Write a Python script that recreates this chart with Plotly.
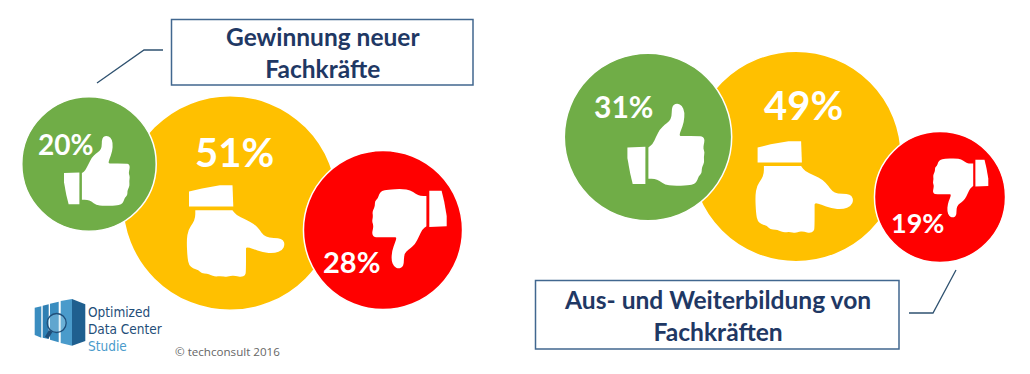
import plotly.graph_objects as go

# Data
sentiments = ["Positiv", "Neutral", "Negativ"]
left_values = [20, 51, 28]
right_values = [31, 49, 19]
left_title = "Gewinnung neuer<br>Fachkräfte"
right_title = "Aus- und Weiterbildung von<br>Fachkräften"
copyright_text = "© techconsult 2016"

# Layout of the bubbles (pixel-like axis units)
left_x, left_y = [89, 230, 383], [164, 203, 230]
right_x, right_y = [648, 796, 940], [137, 156.5, 197]
colors = ["#70AD47", "#FFC000", "#FF0000"]
order = [1, 0, 2]
AREA_REF = 1 / 452
NAVY = "#1F3864"
BORDER = "#41678F"

fig = go.Figure()
for xs, ys, vals in [(left_x, left_y, left_values), (right_x, right_y, right_values)]:
    fig.add_trace(go.Scatter(
        x=[xs[i] for i in order], y=[ys[i] for i in order],
        customdata=[vals[i] for i in order],
        text=[sentiments[i] for i in order],
        mode="markers", hoverinfo="text",
        marker=dict(size=[vals[i] for i in order], sizemode="area", sizeref=AREA_REF,
                    color=[colors[i] for i in order], opacity=1,
                    line=dict(color="white", width=1.5)),
        showlegend=False,
    ))

# Thumb icon outline in its own frame (a repeated point gives a sharp corner)
CUFF = [(22, 148), (76, 146), (76, 258), (38, 258), (30, 225), (22, 180)]
HAND = [(85, 148), (85, 148), (98, 138), (108, 116), (120, 93), (134, 80), (148, 70), (155, 56),
        (155, 32), (160, 20), (172, 16), (186, 22), (194, 42), (192, 72), (182, 98), (178, 112),
        (182, 114), (182, 114), (240, 114), (250, 116), (254, 126), (251, 140), (250, 152),
        (254, 162), (251, 178), (253, 192), (248, 204), (245, 212), (245, 226), (236, 234),
        (232, 248), (224, 258), (205, 262), (160, 264), (135, 260), (118, 248), (104, 242),
        (85, 242), (85, 242)]
ICON_C = (137, 140)


def xf(p, cx, cy, s, rot):
    dx, dy = p[0] - ICON_C[0], p[1] - ICON_C[1]
    if rot == 90:
        dx, dy = -dy, dx
    elif rot == 180:
        dx, dy = -dx, -dy
    return cx + s * dx, cy + s * dy


def poly_path(pts):
    return "M" + " L".join(f"{x:.1f},{y:.1f}" for x, y in pts) + " Z"


def smooth_path(pts):
    n = len(pts)
    mid = lambda a, b: ((a[0] + b[0]) / 2, (a[1] + b[1]) / 2)
    m0 = mid(pts[-1], pts[0])
    d = f"M{m0[0]:.1f},{m0[1]:.1f}"
    for i in range(n):
        m = mid(pts[i], pts[(i + 1) % n])
        d += f" Q{pts[i][0]:.1f},{pts[i][1]:.1f} {m[0]:.1f},{m[1]:.1f}"
    return d + " Z"


shapes = []
icons = [(96.7, 170.8, 0.284, 0), (235.7, 230.8, 0.396, 90), (409.7, 228.8, 0.322, 180),
         (665.7, 144.7, 0.333, 0), (804.3, 186.7, 0.396, 90), (960.8, 188, 0.239, 180)]
for cx, cy, s, rot in icons:
    shapes.append(dict(type="path", path=poly_path([xf(p, cx, cy, s, rot) for p in CUFF]),
                       fillcolor="white", line=dict(width=0)))
    shapes.append(dict(type="path", path=smooth_path([xf(p, cx, cy, s, rot) for p in HAND]),
                       fillcolor="white", line=dict(width=0)))

# Title boxes and callouts
for x0, y0, x1, y1 in [(171.5, 19.5, 473, 85), (535.5, 280.5, 899, 349)]:
    shapes.append(dict(type="rect", x0=x0, y0=y0, x1=x1, y1=y1, fillcolor="white",
                       line=dict(color=BORDER, width=1.5)))
for pts in [[(97, 83), (144, 50), (163, 50)], [(956, 270), (933, 313), (909, 313)]]:
    shapes.append(dict(type="path", path="M" + " L".join(f"{x},{y}" for x, y in pts),
                       line=dict(color="#2F5270", width=1.3)))

# Logo
def logo_pt(x, y):
    return 30 + x / 3, 295 + y / 3


panels = [
    ([(14, 38), (34, 34), (34, 128), (14, 120)], "#3A8DC0"),
    ([(38, 32), (56, 28), (56, 132), (38, 128)], "#2F7FB3"),
    ([(60, 26), (86, 20), (86, 142), (60, 134)], "#3A8DC0"),
    ([(92, 18), (126, 12), (126, 152), (92, 144)], "#4A9BCB"),
    ([(126, 12), (166, 28), (166, 138), (126, 152)], "#1F5F8F"),
]
for pts, col in panels:
    shapes.append(dict(type="path", path=poly_path([logo_pt(*p) for p in pts]),
                       fillcolor=col, line=dict(width=0)))
cxl, cyl = logo_pt(80, 84)
shapes.append(dict(type="circle", x0=cxl - 9.5, x1=cxl + 9.5, y0=cyl - 9.5, y1=cyl + 9.5,
                   fillcolor="rgba(170,215,235,0.35)", line=dict(color="#1F4E79", width=1.3)))
h0, h1 = logo_pt(62, 108), logo_pt(50, 128)
shapes.append(dict(type="line", x0=h0[0], y0=h0[1], x1=h1[0], y1=h1[1],
                   line=dict(color="#1F4E79", width=4)))

# Texts
annotations = []
label_pos = [((65, 144), 28), ((234.5, 152), 40), ((351, 261), 29),
             ((623, 106), 30), ((803, 105), 40), ((917, 222), 27)]
all_vals = left_values + right_values
for ((x, y), size), v in zip(label_pos, all_vals):
    annotations.append(dict(x=x, y=y, text=f"<b>{v}%</b>", showarrow=False,
                            font=dict(family="Lato", size=size, color="white")))
annotations.append(dict(x=323, y=52.5, text=f"<b>{left_title}</b>", showarrow=False, align="center",
                        font=dict(family="Lato", size=24.5, color=NAVY), yanchor="middle"))
annotations.append(dict(x=717, y=315.5, text=f"<b>{right_title}</b>", showarrow=False, align="center",
                        font=dict(family="Lato", size=24.6, color=NAVY), yanchor="middle"))
annotations.append(dict(x=227.5, y=351, text=copyright_text, showarrow=False,
                        font=dict(family="Open Sans", size=11.6, color="#666666")))
NARROW = "'Liberation Sans Narrow', 'Arial Narrow', 'DejaVu Sans Condensed', sans-serif"
for txt, y, col, size in [("Optimized", 312, "#1F4E79", 13.5), ("Data Center", 329, "#1F4E79", 13.5),
                          ("Studie", 346, "#4A9BCB", 13.5)]:
    annotations.append(dict(x=86, y=y, text=txt, xanchor="left", showarrow=False,
                            font=dict(family=NARROW, size=size, color=col)))

fig.update_layout(
    width=1030, height=374,
    margin=dict(l=0, r=0, t=0, b=0),
    paper_bgcolor="white", plot_bgcolor="white",
    xaxis=dict(range=[0, 1030], visible=False, fixedrange=True),
    yaxis=dict(range=[374, 0], visible=False, fixedrange=True),
    shapes=shapes, annotations=annotations,
)
fig.write_html("out.html", config=dict(displayModeBar=False),
               post_script="document.body.style.margin='0';document.body.style.overflow='hidden';")
